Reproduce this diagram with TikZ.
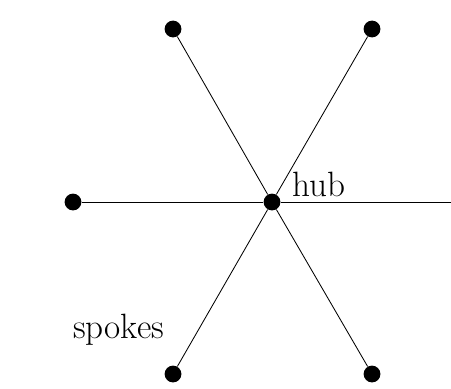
\documentclass[tikz,border=0pt]{standalone}
\usetikzlibrary{positioning}

\begin{document}
\begin{tikzpicture}[
        x=0.025cm, y=-0.025cm,
        punto/.style={circle, fill=black, inner sep=0pt, minimum size=0.42cm},
        rayo/.style={line width=0.6pt},
        etiqueta/.style={font=\fontsize{25}{29}\selectfont, inner sep=0pt}
    ]
        \useasboundingbox (0,0) rectangle (451,388);

        \node[punto] (hub) at (272,202) {};
        \node[punto] (n1) at (173,29) {};
        \node[punto] (n2) at (372,29) {};
        \node[punto] (n3) at (73,202) {};
        \node[punto] (n4) at (173,374) {};
        \node[punto] (n5) at (372,374) {};
        \coordinate (n6) at (451,202);

        \node[etiqueta, anchor=base west] (lhub) at (292,196) {hub};
        \node[etiqueta, anchor=base west] (lspokes) at (73,338) {spokes};

        \foreach \n in {n1,n2,n3,n4,n5,n6}
            \draw[rayo] (hub) -- (\n);
    \end{tikzpicture}
\end{document}
